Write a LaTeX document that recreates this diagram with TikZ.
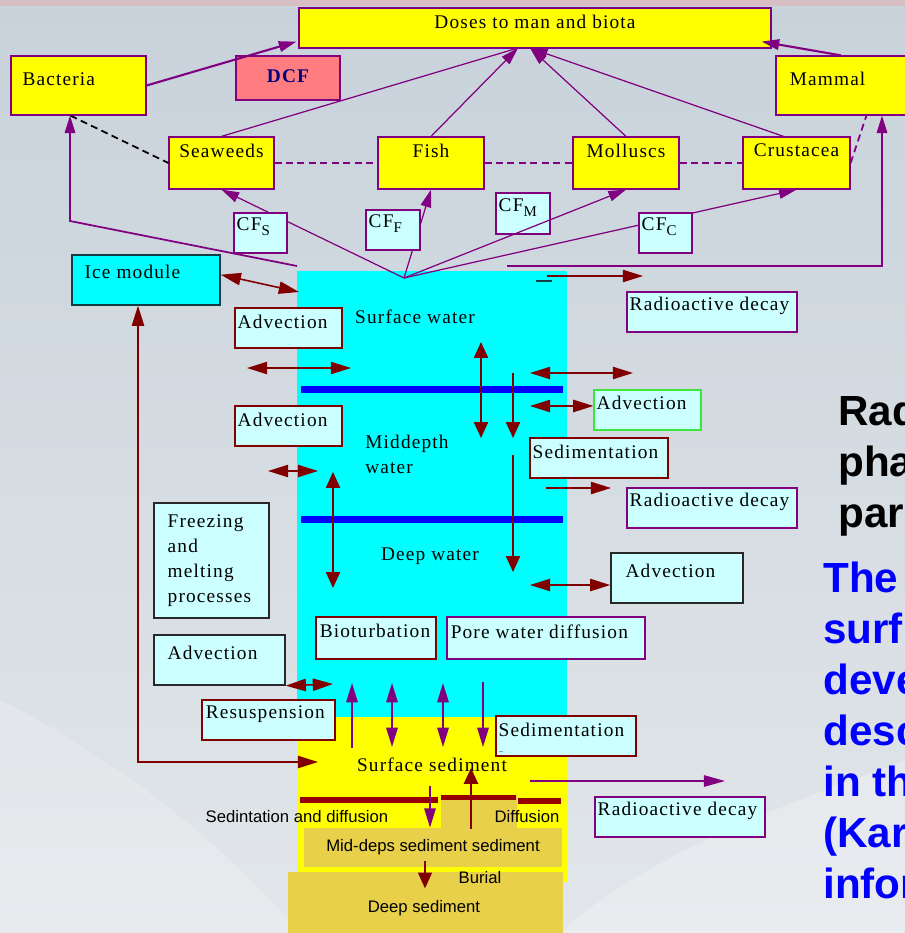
\documentclass[tikz,border=0pt]{standalone}
\usepackage{fontspec}
\setmainfont{Liberation Serif}
\newfontfamily\lblfont[LetterSpace=6]{Liberation Serif}
\newfontfamily\sansfont{Liberation Sans}
\usetikzlibrary{arrows.meta, fit, calc, positioning}

\definecolor{bgtop}{RGB}{200,210,218}
\definecolor{bgbot}{RGB}{226,230,234}
\definecolor{pinkband}{RGB}{214,190,196}
\definecolor{byellow}{RGB}{255,255,0}
\definecolor{bpurple}{RGB}{128,0,128}
\definecolor{dred}{RGB}{128,0,0}
\definecolor{lcyan}{RGB}{204,255,255}
\definecolor{wcyan}{RGB}{0,255,255}
\definecolor{salmon}{RGB}{255,124,128}
\definecolor{navy}{RGB}{0,0,128}
\definecolor{sedtan}{RGB}{232,208,74}
\definecolor{sedbar}{RGB}{150,0,0}
\definecolor{lblue}{RGB}{0,0,255}
\definecolor{dgray}{RGB}{40,40,40}
\definecolor{icebd}{RGB}{20,60,70}
\definecolor{lgreen}{RGB}{60,230,60}

\newcommand{\lbl}{\fontsize{11pt}{14.2pt}\lblfont}
\newcommand{\sanslbl}{\fontsize{9.5pt}{11pt}\sansfont}
\newcommand{\ttl}{\fontsize{24pt}{29pt}\sansfont\bfseries}
\newcommand{\cfsub}[1]{CF\raisebox{-3pt}{\fontsize{8.5pt}{9pt}\selectfont #1}}

\begin{document}
\begin{tikzpicture}[x=0.02cm, y=-0.02cm,
    bio/.style={draw=bpurple, fill=byellow, inner sep=0pt, line width=0.7pt},
    pbox/.style={draw=bpurple, fill=lcyan, inner sep=0pt, line width=0.7pt},
    rbox/.style={draw=dred, fill=lcyan, inner sep=0pt, line width=0.7pt},
    gbox/.style={draw=dgray, fill=lcyan, inner sep=0pt, line width=0.8pt},
    tl/.style={anchor=west, inner sep=0pt, font=\lbl, xshift=1.7pt, yshift=-8pt},
    tc/.style={anchor=center, inner sep=0pt, font=\lbl, yshift=-8pt},
    plink/.style={draw=bpurple, line width=0.7pt, >={Triangle[length=10pt, width=6pt]}},
    pthick/.style={plink, line width=1.2pt},
    rarrh/.style={draw=dred, line width=0.9pt, >={Triangle[length=11.5pt, width=7pt]}},
    rarrv/.style={draw=dred, line width=0.9pt, >={Triangle[length=9pt, width=8pt]}},
    parrv/.style={draw=bpurple, line width=0.9pt, >={Triangle[length=11pt, width=6.5pt]}},
    wtxt/.style={font=\lbl, inner sep=0pt},
    stxt/.style={font=\sanslbl, inner sep=0pt},
    ttxt/.style={font=\ttl, anchor=base west, inner sep=0pt}
  ]
    \useasboundingbox (0,0) rectangle (905,933);
    \clip (0,0) rectangle (905,933);

    % Background
    \shade[top color=bgtop, bottom color=bgbot] (0,0) rectangle (905,933);
    \fill[pinkband] (0,0) rectangle (905,6);
    \fill[white, opacity=0.2] (0,700) .. controls (120,760) and (230,850) .. (300,933) -- (0,933) -- cycle;
    \fill[white, opacity=0.25] (560,933) .. controls (650,850) and (800,800) .. (905,760) -- (905,933) -- cycle;

    % Water column and sediment
    \node[fit={(297,271) (567,717)}, fill=wcyan, inner sep=0pt] (water) {};
    \node[fit={(297,717) (567,882)}, fill=byellow, inner sep=0pt] (surfsed) {};
    \fill[sedtan] (441,795) rectangle (517,828);
    \node[fit={(304,828) (562,867)}, fill=sedtan, inner sep=0pt] (midsed) {};
    \node[fit={(288,872) (563,940)}, fill=sedtan, inner sep=0pt] (deepsed) {};

    % Layer boundaries
    \draw[lblue, line width=4pt] (301,389.5) -- (563,389.5);
    \draw[lblue, line width=4pt] (301,519.5) -- (563,519.5);
    \draw[sedbar, line width=3.4pt] (300,800) -- (438,800);
    \draw[sedbar, line width=3.4pt] (441,797.5) -- (516,797.5);
    \draw[sedbar, line width=3.4pt] (518,801) -- (561,801);
    \draw[icebd, line width=1pt] (536,281) -- (552,281);

    % Biota boxes
    \node[bio, fit={(299,8) (771,48)}, label={[tc]north:Doses to man and biota}] (doses) {};
    \node[bio, fit={(11,56) (146,115)}, label={[tl, xshift=5pt, yshift=-5.5pt]north west:Bacteria}] (bact) {};
    \node[bio, fill=salmon, fit={(236,56) (340,100)}, label={[anchor=center, inner sep=0pt, yshift=1pt, font=\fontsize{11pt}{13pt}\lblfont\bfseries, text=navy]center:DCF}] (dcf) {};
    \node[bio, fit={(776,56) (912,115)}, label={[tl, xshift=6.3pt, yshift=-5.5pt]north west:Mammal}] (mam) {};
    \node[bio, fit={(169,137) (274,189)}, label={[tc]north:Seaweeds}] (seaw) {};
    \node[bio, fit={(378,137) (484,189)}, label={[tc]north:Fish}] (fish) {};
    \node[bio, fit={(573,137) (679,189)}, label={[tc]north:Molluscs}] (moll) {};
    \node[bio, fit={(743,137) (850,189)}, label={[tc]north:Crustacea}] (crus) {};
    \node[pbox, fit={(496,193) (550,234)}, label={[tl, yshift=-0.5pt]north west:\cfsub{M}}] (cfm) {};

    % Free ends
    \coordinate (src) at (404,278);
    \coordinate (dtop) at (518,48);
    \coordinate (dtop2) at (530,48);
    \coordinate (bk) at (297,266);
    \coordinate (bkc) at (70,221);
    \coordinate (mk) at (507,266);
    \coordinate (mkc) at (882,266);

    % Biota links
    \draw[pthick, ->] (bact.east) -- ($(doses.south west)+(-2,-7)$);
    \draw[pthick, ->] ($(mam.north)+(-3,0)$) -- ($(doses.south east)+(-10,-7)$);
    \draw[plink] (seaw.north) -- (dtop);
    \draw[plink, ->] (fish.north) -- (dtop);
    \draw[plink, ->] (moll.north) -- (dtop2);
    \draw[plink, ->] ($(crus.north)+(-13,0)$) -- (dtop2);
    \draw[plink, line width=1pt, dash pattern=on 4pt off 2.5pt] (seaw.east) -- (fish.west);
    \draw[plink, line width=1pt, dash pattern=on 4pt off 2.5pt] (fish.east) -- (moll.west);
    \draw[plink, line width=1pt, dash pattern=on 4pt off 2.5pt] (moll.east) -- (crus.west);
    \draw[plink, line width=1pt, dash pattern=on 4pt off 2.5pt] (crus.east) -- ($(mam.south west)+(91,0)$);
    \draw[black, line width=1pt, dash pattern=on 4pt off 2.5pt] ($(bact.south)+(-8,0)$) -- (seaw.west);

    % Uptake from surface water
    \draw[plink, ->] (src) -- (seaw.south);
    \draw[plink, ->] (src) -- (fish.south);
    \draw[plink, ->] (src) -- (moll.south);
    \draw[plink, ->] (src) -- (crus.south);
    \draw[pthick, line width=1pt, ->] (bk) -- (bkc) -- (bkc |- bact.south);
    \draw[pthick, line width=1pt, ->] (mk) -- (mkc) -- (mkc |- mam.south);

    % Concentration factors
    \node[pbox, fit={(234,213) (287,253)}, label={[tl]north west:\cfsub{S}}] (cfs) {};
    \node[pbox, fit={(366,210) (420,250)}, label={[tl]north west:\cfsub{F}}] (cff) {};
    \node[pbox, fit={(639,213) (692,253)}, label={[tl]north west:\cfsub{C}}] (cfc) {};

    % Process boxes
    \node[gbox, draw=icebd, fill=wcyan, fit={(72,255) (220,305)}, label={[tl, xshift=5.7pt, yshift=-2.2pt]north west:Ice module}] (ice) {};
    \node[rbox, fit={(235,308) (342,348)}, label={[tl]north west:Advection}] (adv1) {};
    \node[pbox, fit={(627,292) (797,332)}, label={[tl]north west:Radioactive decay}] (rd1) {};
    \node[rbox, fit={(235,406) (342,446)}, label={[tl]north west:Advection}] (adv2) {};
    \node[pbox, draw=lgreen, fit={(594,390) (701,430)}, label={[tl, yshift=0.6pt]north west:Advection}] (adv3) {};
    \node[rbox, fit={(530,438) (668,478)}, label={[tl, yshift=-0.5pt]north west:Sedimentation}] (sed1) {};
    \node[pbox, fit={(627,488) (797,528)}, label={[tl]north west:Radioactive decay}] (rd2) {};
    \node[gbox, fit={(611,553) (743,603)}, label={[tl, xshift=6.8pt, yshift=-2.8pt]north west:Advection}] (adv4) {};
    \node[gbox, fit={(154,503) (269,618)}, label={[anchor=north west, inner sep=0pt, font=\lbl, align=left, xshift=8pt, yshift=-7.1pt]north west:Freezing\\and\\melting\\processes}] (frz) {};
    \node[gbox, fit={(154,635) (285,685)}, label={[tl, xshift=6.3pt, yshift=-2.8pt]north west:Advection}] (adv5) {};
    \node[rbox, fit={(316,617) (436,659)}, label={[tl, xshift=0.6pt, yshift=-0.5pt]north west:Bioturbation}] (biot) {};
    \node[pbox, fit={(447,617) (645,659)}, label={[tl, xshift=0.6pt, yshift=-0.5pt]north west:Pore water diffusion}] (pore) {};
    \node[rbox, fit={(202,700) (335,740)}, label={[tl, xshift=0.6pt, yshift=-0.5pt]north west:Resuspension}] (resus) {};
    \node[rbox, fit={(496,716) (636,756)}, label={[tl]north west:Sedimentation}] (sed2) {};
    \node[inner sep=0pt, font=\fontsize{4pt}{4pt}\selectfont, anchor=south west] (sed2dash) at ([xshift=2pt, yshift=1.5pt]sed2.south west) {--};
    \node[pbox, fit={(595,797) (765,837)}, label={[tl, yshift=-0.5pt]north west:Radioactive decay}] (rd3) {};

    % Exchange arrows
    \coordinate (ia) at (299,292);
    \coordinate (d1a) at (547,276);
    \coordinate (d1b) at (643,276);
    \coordinate (h1a) at (247,368);
    \coordinate (h1b) at (351,368);
    \coordinate (h2a) at (530,373);
    \coordinate (h2b) at (633,373);
    \coordinate (h3a) at (530,406);
    \coordinate (h4a) at (268,471);
    \coordinate (h4b) at (318,471);
    \coordinate (v1a) at (481,342);
    \coordinate (v1b) at (481,438);
    \coordinate (v2a) at (513,373);
    \coordinate (v2b) at (513,438);
    \coordinate (v3a) at (513,455);
    \coordinate (v3b) at (513,572);
    \coordinate (v4a) at (333,472);
    \coordinate (v4b) at (333,588);
    \coordinate (d2a) at (546,488);
    \coordinate (d2b) at (611,488);
    \coordinate (h5a) at (530,585);
    \coordinate (h6b) at (333,684);
    \coordinate (fk) at (138,762);
    \coordinate (fe) at (318,762);

    \draw[rarrh, <->] ([yshift=3pt]ice.east) -- (ia);
    \draw[rarrh, ->] (d1a) -- (d1b);
    \draw[rarrh, <->] (h1a) -- (h1b);
    \draw[rarrh, <->] (h2a) -- (h2b);
    \draw[rarrh, <->] (h3a) -- ([yshift=2.3pt]adv3.west);
    \draw[rarrh, <->] (h4a) -- (h4b);
    \draw[rarrv, <->] (v1a) -- (v1b);
    \draw[rarrv, ->] (v2a) -- (v2b);
    \draw[rarrv, ->] (v3a) -- (v3b);
    \draw[rarrv, <->] (v4a) -- (v4b);
    \draw[rarrh, ->] (d2a) -- (d2b);
    \draw[rarrh, <->] (h5a) -- ([yshift=-4pt]adv4.west);
    \draw[rarrh, <->] (adv5.south east) -- (h6b);
    \draw[rarrh, <->] (fe) -- (fk) -- (fk |- ice.south);

    % Sediment exchange
    \coordinate (s1a) at (352,748);
    \coordinate (s1b) at (352,683);
    \coordinate (s2a) at (392,683);
    \coordinate (s2b) at (392,747);
    \coordinate (s3a) at (443,683);
    \coordinate (s3b) at (443,747);
    \coordinate (s4a) at (483,682);
    \coordinate (s4b) at (483,747);
    \coordinate (s5a) at (430,786);
    \coordinate (s6a) at (530,781);
    \coordinate (s6b) at (725,781);
    \coordinate (u1a) at (471,829);
    \coordinate (u1b) at (471,768);

    \draw[parrv, ->] (s1a) -- (s1b);
    \draw[parrv, <->] (s2a) -- (s2b);
    \draw[parrv, <->] (s3a) -- (s3b);
    \draw[parrv, ->] (s4a) -- (s4b);
    \draw[parrv, ->] (s5a) -- (s5a |- midsed.north);
    \draw[plink, line width=0.8pt, >={Triangle[length=12pt, width=6.5pt]}, ->] (s6a) -- (s6b);
    \draw[rarrv, line width=1.2pt, ->] (u1a) -- (u1b);
    \draw[rarrv, ->] ($(midsed.south)+(-8,-6)$) -- ($(midsed.south)+(-8,21)$);

    % Layer names
    \node[wtxt] (surfwt) at (415,317) {Surface water};
    \node[wtxt, anchor=north west, align=left] (midwt) at (365,434.6) {Middepth\\water};
    \node[wtxt] (deepwt) at (430,556) {Deep water};
    \node[wtxt] (surfsedt) at (432,765) {Surface sediment};
    \node[stxt] (sdifft) at (297,817) {Sedintation and diffusion};
    \node[stxt] (difft) at (527,817) {Diffusion};
    \node[stxt] (midsedt) at (midsed.center) {Mid-deps sediment sediment};
    \node[stxt] (burialt) at (480,878) {Burial};
    \node[stxt] (deepsedt) at (424,908) {Deep sediment};

    % Slide text
    \node[ttxt] (ttl1) at (838,425) {Rad};
    \node[ttxt] (ttl2) at (838,476) {pha};
    \node[ttxt] (ttl3) at (838,527) {par};
    \node[ttxt, text=lblue] (txt1) at (823,592) {The};
    \node[ttxt, text=lblue] (txt2) at (823,643) {surf};
    \node[ttxt, text=lblue] (txt3) at (823,694) {deve};
    \node[ttxt, text=lblue] (txt4) at (823,745) {desc};
    \node[ttxt, text=lblue] (txt5) at (823,796) {in th};
    \node[ttxt, text=lblue] (txt6) at (823,847) {(Kar};
    \node[ttxt, text=lblue] (txt7) at (823,898) {infor};

\end{tikzpicture}
\end{document}
